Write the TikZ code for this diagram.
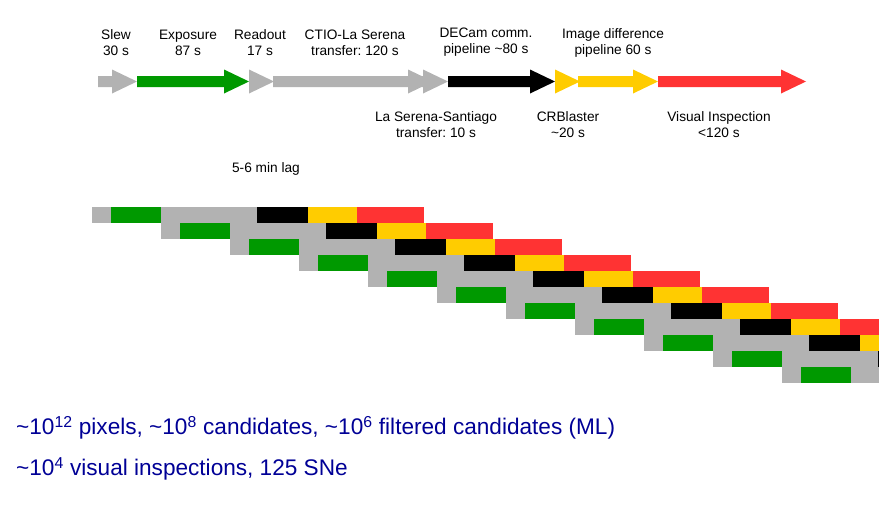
\documentclass[tikz,border=0pt]{standalone}
\usepackage{fontspec}
\setmainfont{Liberation Sans}

\definecolor{slewgray}{RGB}{178,178,178}
\definecolor{expgreen}{RGB}{0,153,0}
\definecolor{diffyellow}{RGB}{255,204,0}
\definecolor{visred}{RGB}{255,51,51}
\definecolor{noteblue}{RGB}{0,0,150}

% one stage of the timeline: colour, y, x start, x end
\newcommand{\stagearrow}[4]{%
  \fill[#1] (#3,#2-5.5) -- (#4-25,#2-5.5) -- (#4-25,#2-12) -- (#4,#2)
    -- (#4-25,#2+12) -- (#4-25,#2+5.5) -- (#3,#2+5.5) -- cycle;}

\begin{document}
\frenchspacing
\begin{tikzpicture}[x=1pt,y=-1pt,
    lbl/.style={font=\fontsize{13.7}{16}\selectfont,align=center,inner sep=0pt},
    note/.style={font=\fontsize{22.6}{26}\selectfont,text=noteblue,anchor=west,inner sep=0pt}]
  \useasboundingbox (0,0) rectangle (879,506);
  \clip (0,0) rectangle (879,506);

  % timeline
  \stagearrow{slewgray}{81.5}{98}{137}
  \stagearrow{expgreen}{81.5}{137}{249}
  \stagearrow{slewgray}{81.5}{249}{274}
  \stagearrow{slewgray}{81.5}{273}{433}
  \stagearrow{slewgray}{81.5}{422}{448}
  \stagearrow{black}{81.5}{448}{555}
  \stagearrow{diffyellow}{81.5}{555}{580}
  \stagearrow{diffyellow}{81.5}{578}{658}
  \stagearrow{visred}{81.5}{658}{806}

  \node[lbl] (A) at (116,42.5) {Slew\\30 s};
  \node[lbl] (B) at (188,42.5) {Exposure\\87 s};
  \node[lbl] (C) at (260,42.5) {Readout\\17 s};
  \node[lbl] (D) at (355,42.5) {CTIO-La Serena\\transfer: 120 s};
  \node[lbl] (E) at (486,42.5) {DECam comm.\\pipeline \textasciitilde80 s};
  \node[lbl] (F) at (613,42.5) {Image difference\\pipeline 60 s};

  \node[lbl] (G) at (436,124.5) {La Serena-Santiago\\transfer: 10 s};
  \node[lbl] (H) at (568,124.5) {CRBlaster\\\textasciitilde20 s};
  \node[lbl] (I) at (719,124.5) {Visual Inspection\\<120 s};

  \node[lbl] (lag) at (266,168.5) {5-6 min lag};

  % one row per exposure
  \foreach \i [evaluate=\i as \x using 92+69*\i,
               evaluate=\i as \y using 207+16*\i] in {0,...,10} {
    \fill[slewgray] (\x,\y) rectangle ++(19,16);
    \fill[expgreen] (\x+19,\y) rectangle ++(50,16);
    \fill[slewgray] (\x+69,\y) rectangle ++(96,16);
    \fill[black] (\x+165,\y) rectangle ++(51,16);
    \fill[diffyellow] (\x+216,\y) rectangle ++(49,16);
    \fill[visred] (\x+265,\y) rectangle ++(67,16);
  }

  \node[note] (N1) at (16,428) {\textasciitilde10\textsuperscript{12} pixels, \textasciitilde10\textsuperscript{8} candidates, \textasciitilde10\textsuperscript{6} filtered candidates (ML)};
  \node[note] (N2) at (16,469) {\textasciitilde10\textsuperscript{4} visual inspections, 125 SNe};
\end{tikzpicture}
\end{document}
